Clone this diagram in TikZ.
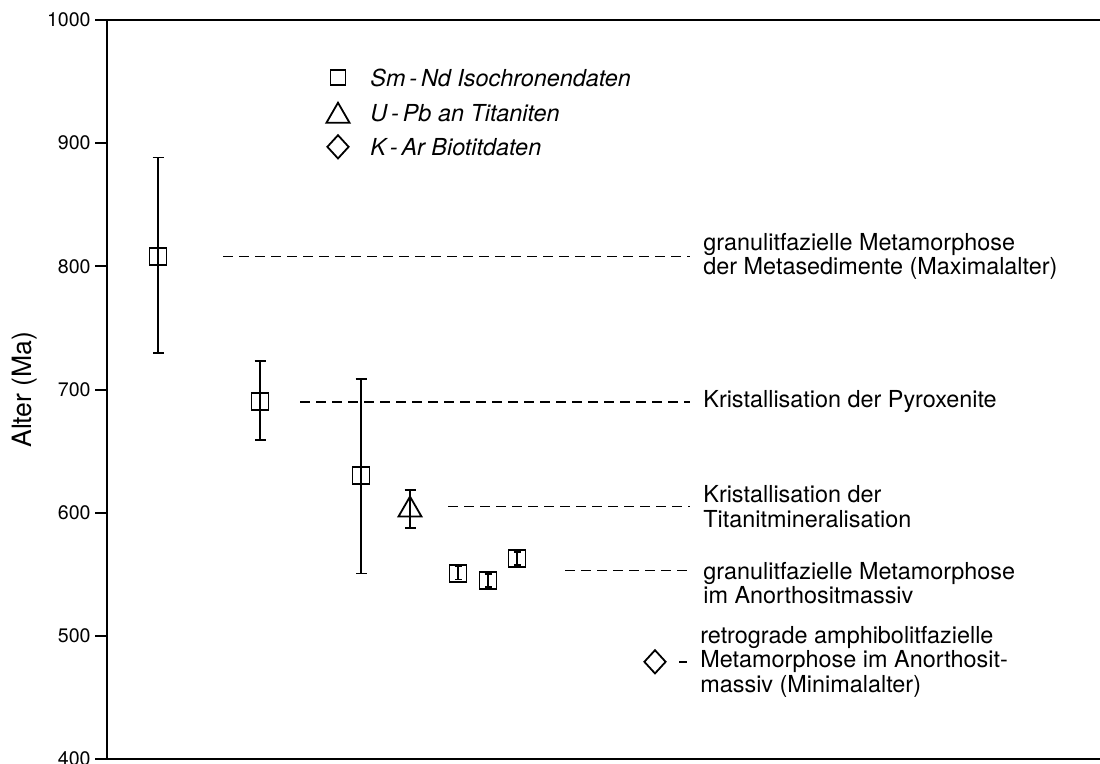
\documentclass[tikz,border=0pt]{standalone}
\usepackage{fontspec}
\setmainfont{TeX Gyre Heros}
\usetikzlibrary{arrows.meta, positioning, shapes.geometric}

\begin{document}
\begin{tikzpicture}[
  x=0.5pt, y=0.616pt,
  font=\fontsize{11.7}{12.2}\selectfont,
  axis/.style={line width=1pt},
  ebar/.style={line width=0.9pt, {Bar[width=5.5pt]}-{Bar[width=5.5pt]}},
  smallbar/.style={line width=0.8pt, {Bar[width=3.5pt]}-{Bar[width=3.5pt]}},
  guide/.style={line width=0.7pt, dash pattern=on 5pt off 3pt},
  sqmark/.style={draw, line width=0.9pt, rectangle, minimum size=8.5pt, inner sep=0pt},
  trimark/.style={draw, line width=0.9pt, regular polygon, regular polygon sides=3, minimum size=13.3pt, inner sep=0pt},
  dimark/.style={draw, line width=0.9pt, diamond, minimum width=11pt, minimum height=12pt, inner sep=0pt},
  agelabel/.style={anchor=west, align=left, inner xsep=6.5pt, inner ysep=0pt},
  legtext/.style={anchor=west, inner sep=0pt, font=\fontsize{11.7}{12.2}\selectfont\itshape}
]
\useasboundingbox (0,396.75) rectangle (1100,1016.2);

% axes
\draw[axis] (1100,1000) -- (107,1000) -- (107,400) -- (1100,400);
\foreach \a in {400,500,...,1000} {
  \draw[axis] (95,\a) -- (107,\a);
  \node[anchor=east, inner sep=0pt, font=\fontsize{9.8}{10}\selectfont] (tick\a) at (91,\a) {\a};
}
\node[rotate=90, font=\fontsize{13.3}{14}\selectfont] (ylab) at (25,700) {Alter (Ma)};

% legend
\node[sqmark, minimum size=7.5pt] (legsq) at (338,953) {};
\node[trimark] (legtri) at (338,922) {};
\node[dimark] (legdi) at (338,897) {};
\node[legtext] (leg1) at (370,953) {Sm\,-\,Nd Isochronendaten};
\node[legtext] (leg2) at (370,924) {U\,-\,Pb an Titaniten};
\node[legtext] (leg3) at (370,897) {K\,-\,Ar Biotitdaten};

% data
\draw[ebar] (158,729) -- (158,889);
\node[sqmark] (sq1) at (158,808) {};
\draw[ebar] (260,658) -- (260,724);
\node[sqmark] (sq2) at (260,690) {};
\draw[ebar] (361,550) -- (361,709);
\node[sqmark] (sq3) at (361,630) {};
\draw[ebar] (410,587) -- (410,619);
\node[trimark] (tri) at (410,602.3) {};
\draw[smallbar] (458,545) -- (458,557);
\node[sqmark] (sq4) at (458,551) {};
\draw[smallbar] (488,539) -- (488,551);
\node[sqmark] (sq5) at (488,545) {};
\draw[smallbar] (517,557) -- (517,569);
\node[sqmark] (sq6) at (517,563) {};
\node[dimark] (dia) at (655,479) {};

% interpretation
\node[agelabel] (lab1) at (690,808) {granulitfazielle Metamorphose\\der Metasedimente (Maximalalter)};
\node[agelabel] (lab2) at (690,690) {Kristallisation der Pyroxenite};
\node[agelabel] (lab3) at (690,605) {Kristallisation der\\Titanitmineralisation};
\node[agelabel] (lab4) at (690,543) {granulitfazielle Metamorphose\\im Anorthositmassiv};
\node[agelabel, inner xsep=6.5pt] (lab5) at (687,479) {retrograde amphibolitfazielle\\Metamorphose im Anorthosit-\\massiv (Minimalalter)};

\coordinate (g1) at (223,808);
\coordinate (g2) at (300,690);
\coordinate (g3) at (448,605);
\coordinate (g4) at (565,553);
\coordinate (g5) at (679,479);
\draw[guide] (g1) -- (lab1.west);
\draw[guide] (g2) -- (lab2.west);
\draw[guide] (g3) -- (lab3.west);
\draw[guide] (g4) -- (g4 -| lab4.west);
\draw[line width=0.7pt] (g5) -- (lab5.west);
\end{tikzpicture}
\end{document}
